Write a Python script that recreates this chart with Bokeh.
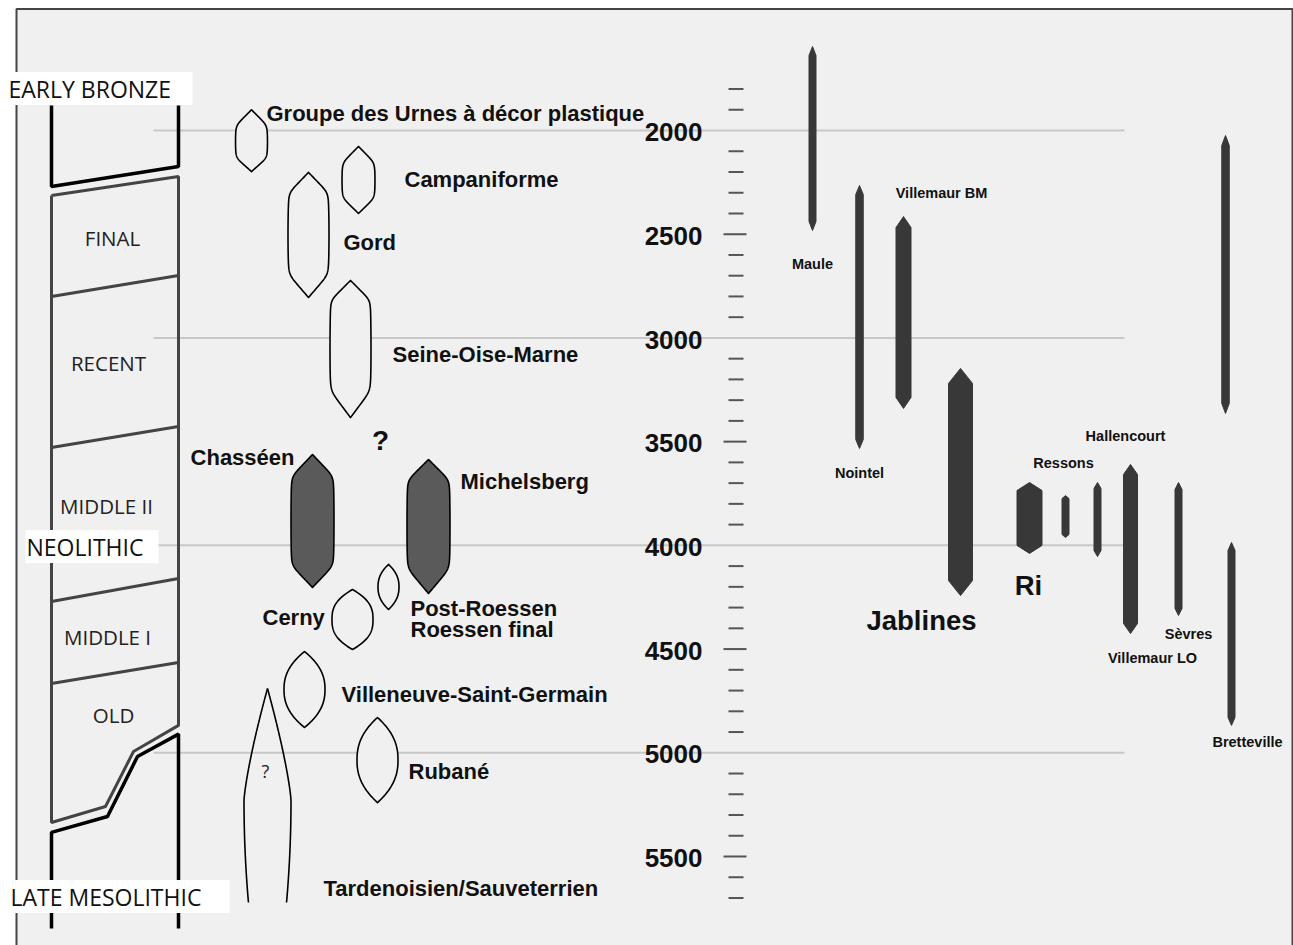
import numpy as np
from bokeh.plotting import figure
from bokeh.models import Range1d
from bokeh.core.properties import value
from bokeh.embed import file_html
from bokeh.resources import INLINE

# ---------------- data (years BC) ----------------
# cultures drawn as lenses in the middle column
culture_names = ["Groupe des Urnes à décor plastique", "Campaniforme", "Gord",
                 "Seine-Oise-Marne", "Chasséen", "Michelsberg",
                 "Post-Roessen / Roessen final", "Cerny",
                 "Villeneuve-Saint-Germain", "Rubané"]
culture_start = [1900, 2077, 2202, 2723, 3562, 3586, 4092, 4213, 4512, 4830]
culture_end = [2198, 2400, 2805, 3384, 4203, 4232, 4309, 4502, 4878, 5240]
culture_filled = [False, False, False, False, True, True, False, False, False, False]

# Tardenoisien/Sauveterrien open-ended lens
tard_start = 4690
tard_widest = 5230
tard_end = 5722

# site date ranges (right part)
site_names = ["Maule", "Nointel", "Villemaur BM", "Jablines", "Ri", "Ressons a",
              "Ressons b", "Hallencourt", "Sèvres", "Bretteville", "(unnamed)"]
site_start = [1595, 2265, 2415, 3147, 3697, 3760, 3697, 3610, 3697, 3986, 2024]
site_end = [2482, 3533, 3340, 4242, 4039, 3962, 4054, 4425, 4338, 4868, 3364]

# period column boundaries (year at left edge, year at right edge)
bronze_bottom = (2270, 2174)
neo_top = (2313, 2222)
period_dividers = [(2800, 2699), (3528, 3427), (4271, 4160), (4666, 4565)]
period_labels = ["FINAL", "RECENT", "MIDDLE II", "MIDDLE I", "OLD"]
period_label_years = [2516, 3123, 3808, 4444, 4820]
era_labels = ["EARLY BRONZE", "NEOLITHIC", "LATE MESOLITHIC"]
era_label_years = [1798, 4006, 5693]

# time scale
tick_years = [y for y in range(1800, 5800, 100) if y % 1000 != 0]
tick_label_years = [2000, 2500, 3000, 3500, 4000, 4500, 5000, 5500]
grid_years = [2000, 3000, 4000, 5000]

# ---------------- layout ----------------
PX = 3500.0 / 726.0  # years per screen pixel
Y_TOP = 2000 - 130 * PX
Y_BOT = 2000 + 815 * PX

p = figure(width=1293, height=945, x_range=Range1d(0, 1293), y_range=Range1d(Y_BOT, Y_TOP),
           output_backend="svg", toolbar_location=None,
           x_axis_location=None, y_axis_location=None, min_border=0)
p.grid.visible = False
p.outline_line_color = None
p.background_fill_color = "white"
p.border_fill_color = "white"

# frame
p.quad(left=[16], right=[1292], top=[2000 + (8.5 - 130) * PX], bottom=[6200],
       fill_color="#f0f0f0", line_color="#444444", line_width=2)

# grid lines
p.segment(x0=[153] * len(grid_years), x1=[1124] * len(grid_years), y0=grid_years, y1=grid_years,
          line_color="#c8c8c8", line_width=2)

# ---- period column ----
CL, CR = 51, 178
p.line([CL, CL, CR, CR], [1879, bronze_bottom[0], bronze_bottom[1], 1879],
       line_color="black", line_width=3.5)
p.line([CL, CR, CR, 133, 105, CL, CL],
       [neo_top[0], neo_top[1], 4868, 4994, 5259, 5336, neo_top[0]],
       line_color="#444444", line_width=3)
p.multi_line([[CL, CR]] * len(period_dividers), [list(d) for d in period_dividers],
             line_color="#444444", line_width=3)
p.line([CL, CL, 107, 137, CR, CR], [5847, 5384, 5307, 5018, 4910, 5847],
       line_color="black", line_width=3.5)

p.text(x=[112, 108, 106, 107, 113], y=period_label_years, text=period_labels,
       text_align="center", text_baseline="middle", text_color="#222222",
       text_font=value("Open Sans"), text_font_size="20.5px")

# era label boxes
box_l = [0, 25, 0]
box_r = [192, 158, 229]
box_half = 16.5 * PX
p.quad(left=box_l, right=box_r, top=[y - box_half for y in era_label_years],
       bottom=[y + box_half for y in era_label_years], fill_color="white", line_color=None)
p.text(x=[8, 26, 10], y=era_label_years, text=era_labels, text_align="left",
       text_baseline="middle", text_color="#111111",
       text_font=value("Open Sans"), text_font_size="23px")

# ---- cultures ----
def hexa(cx, y0, y1, hw, a_top, a_bot, c, k, n=160):
    t = np.linspace(0, 1, n)
    tt = np.maximum(t / a_top, 1e-9)
    tb = np.maximum((1 - t) / a_bot, 1e-9)
    sd = 1 - c * (2 * t - 1) ** 2
    f = (tt ** -k + sd ** -k + tb ** -k) ** (-1.0 / k)
    f[0] = 0
    f[-1] = 0
    ys = y0 + (y1 - y0) * t
    xs = np.concatenate([cx + hw * f, (cx - hw * f)[::-1]])
    return list(xs), list(np.concatenate([ys, ys[::-1]]))

def lens(cx, y0, y1, hw, q, n=120):
    t = np.linspace(0, 1, n)
    f = 1 - np.abs(2 * t - 1) ** q
    ys = y0 + (y1 - y0) * t
    xs = np.concatenate([cx + hw * f, (cx - hw * f)[::-1]])
    return list(xs), list(np.concatenate([ys, ys[::-1]]))

# (cx, half width, kind, params)
c_layout = [
    (251, 16, "hex", (0.26, 0.23, 0.06, 7)),
    (358, 16.5, "hex", (0.25, 0.24, 0.06, 7)),
    (308, 20.5, "hex", (0.17, 0.19, 0.08, 8)),
    (350, 20.5, "hex", (0.15, 0.20, 0.06, 8)),
    (312, 21.5, "hex", (0.17, 0.17, 0.05, 8)),
    (428, 21.5, "hex", (0.16, 0.19, 0.05, 8)),
    (388, 10.5, "lens", (2.3,)),
    (352, 20.5, "lens", (2.6,)),
    (304, 20.5, "lens", (2.3,)),
    (377, 20.5, "lens", (2.3,)),
]
xs_all, ys_all, fills = [], [], []
for i in range(len(culture_names)):
    cx, hw, kind, prm = c_layout[i]
    if kind == "hex":
        xs, ys = hexa(cx, culture_start[i], culture_end[i], hw, *prm)
    else:
        xs, ys = lens(cx, culture_start[i], culture_end[i], hw, *prm)
    xs_all.append(xs)
    ys_all.append(ys)
    fills.append("#5a5a5a" if culture_filled[i] else "#f0f0f0")
p.patches(xs_all, ys_all, fill_color=fills, line_color="black", line_width=1.6,
          line_join="round")

# Tardenoisien open shape
tcx, thw = 267, 23.5
yy_top = np.linspace(tard_start, tard_widest, 60)
u = (yy_top - tard_start) / (tard_widest - tard_start)
w_top = 1 - (1 - u) ** 1.3
yy_bot = np.linspace(tard_widest, tard_end, 40)[1:]
v = (yy_bot - tard_widest) / (tard_end - tard_widest)
w_bot = 1 - 0.19 * v ** 2
yy = np.concatenate([yy_top, yy_bot])
ww = np.concatenate([w_top, w_bot]) * thw
p.line(list(tcx - ww), list(yy), line_color="black", line_width=1.6)
p.line(list(tcx + ww), list(yy), line_color="black", line_width=1.6)

BOLD = value("Liberation Sans")
lab_x = [266, 404, 343, 392, 460, 410, 410, 262, 341, 408, 323]
lab_y = [1918, 2236, 2540, 3080, 3692, 4304, 4406, 4348, 4719, 5090, 5654]
lab_t = ["Groupe des Urnes à décor plastique", "Campaniforme", "Gord", "Seine-Oise-Marne",
         "Michelsberg", "Post-Roessen", "Roessen final", "Cerny",
         "Villeneuve-Saint-Germain", "Rubané", "Tardenoisien/Sauveterrien"]
p.text(x=lab_x, y=lab_y, text=lab_t, text_align="left", text_baseline="middle",
       text_color="#111111", text_font=BOLD, text_font_style="bold", text_font_size="22px")
p.text(x=[294], y=[3576], text=["Chasséen"], text_align="right", text_baseline="middle",
       text_color="#111111", text_font=BOLD, text_font_style="bold", text_font_size="22px")
p.text(x=[380], y=[3494], text=["?"], text_align="center", text_baseline="middle",
       text_color="#111111", text_font=BOLD, text_font_style="bold", text_font_size="28px")
p.text(x=[265], y=[5090], text=["?"], text_align="center", text_baseline="middle",
       text_color="#222222", text_font=value("Open Sans"), text_font_size="18px")

# ---- time scale ----
minor = [y for y in tick_years if y % 500 != 0]
major = [y for y in tick_years if y % 500 == 0]
p.segment(x0=[728] * len(minor), x1=[743] * len(minor), y0=minor, y1=minor,
          line_color="#555555", line_width=2)
p.segment(x0=[723] * len(major), x1=[746] * len(major), y0=major, y1=major,
          line_color="#555555", line_width=2)
p.text(x=[702] * len(tick_label_years), y=[y + 8 for y in tick_label_years],
       text=[str(y) for y in tick_label_years], text_align="right", text_baseline="middle",
       text_color="#111111", text_font=BOLD, text_font_style="bold", text_font_size="26px")

# ---- sites ----
s_cx = [812, 859, 903, 960, 1029, 1065, 1097, 1130, 1178, 1231, 1225]
s_w = [7, 7.5, 15, 24, 25, 7, 7, 14, 7, 7, 7.5]
s_tip = [9, 9, 11, 15, 8, 3, 6, 10, 7, 8, 10]
bx, by = [], []
for i in range(len(site_names)):
    c, h, tp = s_cx[i], s_w[i] / 2, s_tip[i] * PX
    a, b = site_start[i], site_end[i]
    bx.append([c, c + h, c + h, c, c - h, c - h])
    by.append([a, a + tp, b - tp, b, b - tp, a + tp])
p.patches(bx, by, fill_color="#383838", line_color="#383838", line_width=1)

sl_x = [812, 859, 941, 1063, 1125, 1152, 1188, 1247]
sl_y = [2646, 3649, 2299, 3605, 3475, 4545, 4425, 4950]
sl_t = ["Maule", "Nointel", "Villemaur BM", "Ressons", "Hallencourt", "Villemaur LO",
        "Sèvres", "Bretteville"]
p.text(x=sl_x, y=sl_y, text=sl_t, text_align="center", text_baseline="middle",
       text_color="#111111", text_font=BOLD, text_font_style="bold", text_font_size="14.5px")
p.text(x=[921, 1028], y=[4362, 4194], text=["Jablines", "Ri"], text_align="center",
       text_baseline="middle", text_color="#111111", text_font=BOLD,
       text_font_style="bold", text_font_size="27.5px")

open("out.html", "w").write(file_html(p, INLINE))
